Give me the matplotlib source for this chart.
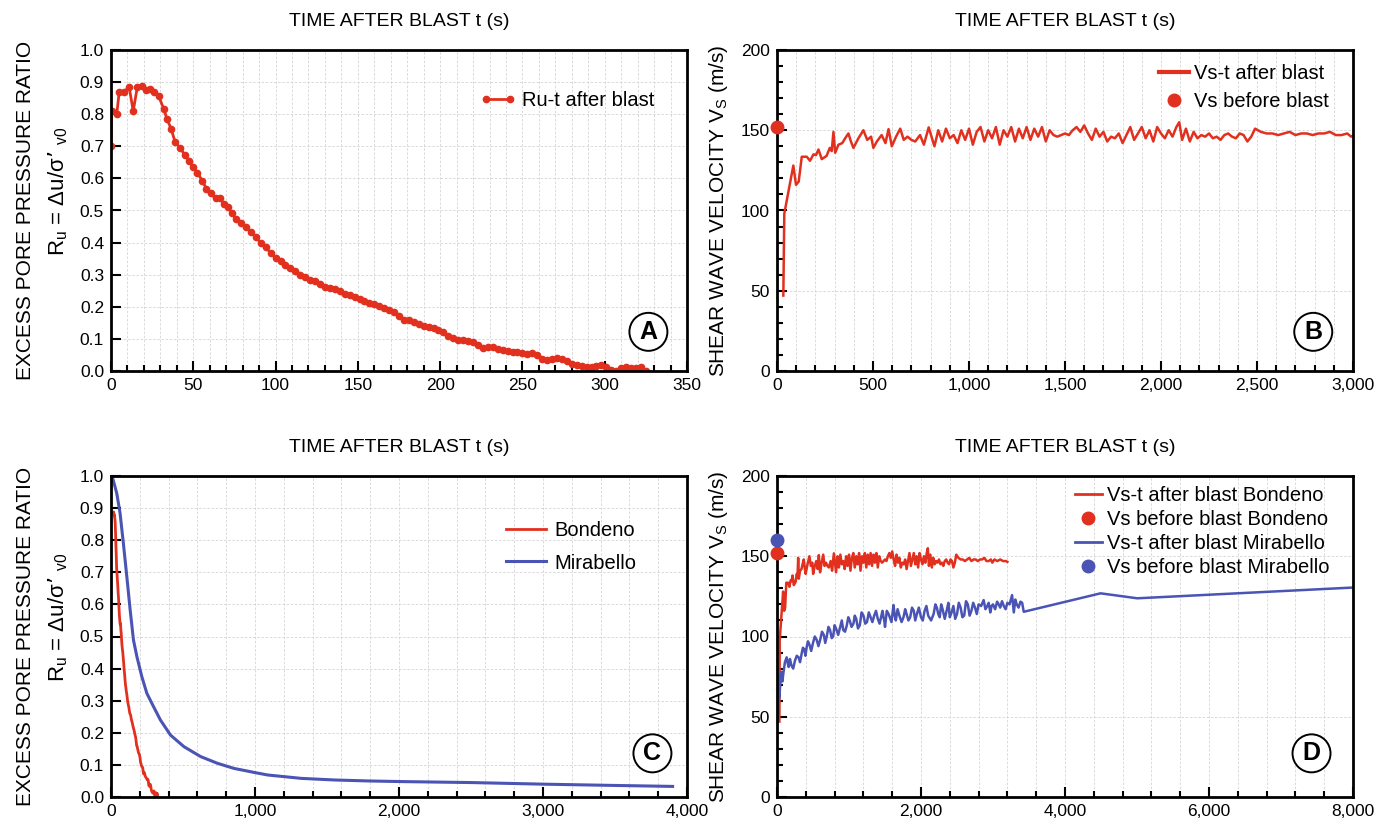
import numpy as np
import matplotlib
matplotlib.use("Agg")
import matplotlib.pyplot as plt
from matplotlib.ticker import MultipleLocator, FuncFormatter
from matplotlib.lines import Line2D

plt.rcParams['font.family'] = ['Liberation Sans', 'DejaVu Sans']
plt.rcParams['mathtext.default'] = 'regular'

RED = '#e2301f'
BLUE = '#4a54b4'

# --- panel A / C (Bondeno): excess pore pressure ratio vs time
t_ru = [0, 0.5, 3.5, 5, 8, 11, 13.5, 16, 18.7, 21.4,
        24, 26, 29, 32, 34, 36.5, 39, 42, 45, 47.5,
        50, 52.5, 55.5, 58, 60.5, 63.5, 66, 68.5, 71, 73.5,
        76, 79, 82, 85, 88, 91, 94, 97, 100, 103,
        106, 109, 112, 115, 118, 121, 124, 127, 130, 133,
        136, 139, 142, 145, 148, 151, 154, 157, 160, 163,
        166, 169, 172, 175, 178, 181, 184, 187, 190, 193,
        196, 199, 202, 205, 208, 211, 214, 217, 220, 223,
        226, 229, 232, 235, 238, 241, 244, 247, 250, 253,
        256, 259, 262, 265, 268, 271, 274, 277, 280, 283,
        286, 289, 292, 295, 298, 301, 304, 307, 310, 313,
        316, 319, 322, 325]
ru = [0.70, 0.81, 0.80, 0.87, 0.87, 0.885, 0.81, 0.885, 0.888, 0.876,
      0.878, 0.87, 0.856, 0.817, 0.785, 0.755, 0.713, 0.695, 0.672, 0.655,
      0.634, 0.618, 0.592, 0.568, 0.553, 0.538, 0.540, 0.520, 0.510, 0.491,
      0.474, 0.461, 0.450, 0.433, 0.418, 0.398, 0.385, 0.368, 0.352, 0.342,
      0.330, 0.322, 0.312, 0.300, 0.292, 0.285, 0.280, 0.270, 0.262, 0.258,
      0.256, 0.248, 0.240, 0.236, 0.230, 0.224, 0.218, 0.213, 0.208, 0.202,
      0.195, 0.190, 0.184, 0.172, 0.160, 0.158, 0.152, 0.146, 0.140, 0.136,
      0.134, 0.128, 0.122, 0.108, 0.104, 0.098, 0.096, 0.094, 0.091, 0.082,
      0.072, 0.074, 0.076, 0.070, 0.065, 0.062, 0.060, 0.058, 0.055, 0.054,
      0.055, 0.050, 0.038, 0.034, 0.038, 0.040, 0.038, 0.030, 0.022, 0.018,
      0.015, 0.013, 0.012, 0.015, 0.019, 0.012, 0.004, 0.000, 0.010, 0.013,
      0.008, 0.010, 0.011, 0.000]

# --- panel C (Mirabello)
t_ru_mir = [0, 12, 40, 63, 86, 110, 133, 156, 180, 214,
            249, 296, 343, 413, 506, 622, 739, 855, 1000, 1089,
            1322, 1554, 1788, 2021, 2500, 3000, 3500, 3900]
ru_mir = [1.0, 0.993, 0.946, 0.884, 0.79, 0.686, 0.583, 0.489, 0.437, 0.375,
          0.323, 0.281, 0.24, 0.193, 0.157, 0.126, 0.105, 0.089, 0.076, 0.0685,
          0.058, 0.053, 0.05, 0.048, 0.045, 0.04, 0.036, 0.033]

# --- panel B / D (Bondeno): shear wave velocity vs time
t_vs = [33, 38, 60, 85, 99, 113, 129, 155, 172, 190,
        203, 216, 233, 258, 275, 285, 294, 303, 320, 340,
        355, 372, 385, 398, 424, 450, 470, 490, 502, 520,
        545, 565, 581, 598, 620, 642, 660, 680, 700, 720,
        745, 765, 790, 805, 820, 840, 860, 880, 900, 920,
        940, 960, 980, 1000, 1020, 1040, 1060, 1080, 1100, 1120,
        1140, 1160, 1180, 1200, 1220, 1240, 1260, 1280, 1300, 1320,
        1340, 1360, 1380, 1400, 1420, 1440, 1460, 1480, 1500, 1520,
        1540, 1560, 1580, 1600, 1620, 1640, 1660, 1680, 1700, 1720,
        1740, 1760, 1780, 1800, 1820, 1840, 1860, 1880, 1900, 1920,
        1940, 1960, 1980, 2000, 2020, 2040, 2060, 2080, 2095, 2110,
        2130, 2150, 2170, 2190, 2210, 2230, 2250, 2270, 2290, 2310,
        2330, 2350, 2370, 2390, 2410, 2430, 2450, 2470, 2490, 2520,
        2550, 2580, 2610, 2640, 2670, 2700, 2730, 2760, 2790, 2820,
        2850, 2880, 2910, 2940, 2970, 2990, 3020, 3060, 3100, 3140,
        3180, 3200]
vs = [47, 98, 112, 128, 116, 118, 133.5, 133.5, 131, 135,
      134.5, 138, 132, 134, 139, 137, 149, 136, 141, 142,
      145, 148, 143, 139, 145, 150, 144, 146, 139, 143,
      147, 142, 150.7, 140, 146, 151, 144, 146, 144, 143,
      147, 141, 151.8, 146, 140, 150, 143, 151, 145, 147,
      142, 150, 144, 151, 141, 149, 152, 143, 150, 145,
      152, 141, 150, 146, 152, 143, 151, 145, 152, 144,
      151, 146, 152, 143, 150, 147, 146, 147, 148, 147,
      150, 152, 149, 153, 148, 144, 151, 146, 149, 143,
      146, 145, 148, 142, 147, 152, 144, 148, 152, 145,
      150, 143, 152, 148, 145, 150, 146, 152, 155, 144,
      151, 143, 149, 145, 147, 146, 148, 145, 146, 144,
      147, 148, 146, 145, 148, 147, 143, 146, 151, 149,
      148, 148, 147, 148, 149, 147, 148, 148, 147, 148,
      148, 149, 147, 147, 148, 146, 148, 147, 148, 147,
      147, 146.5]
vs_before = 152

# --- panel D (Mirabello)
t_vs_mir = [18, 25, 32, 45, 60, 75, 88, 110, 134, 150,
            162, 180, 200, 225, 250, 275, 300, 320, 343, 360,
            380, 395, 413, 430, 450, 475, 500, 525, 552, 575,
            600, 625, 650, 670, 691, 715, 737, 760, 780, 800,
            820, 850, 877, 900, 920, 945, 970, 990, 1010, 1035,
            1062, 1080, 1100, 1125, 1150, 1175, 1201, 1225, 1250, 1275,
            1300, 1325, 1350, 1375, 1400, 1425, 1450, 1465, 1479, 1490,
            1500, 1525, 1550, 1590, 1618, 1635, 1650, 1675, 1700, 1730,
            1757, 1780, 1800, 1825, 1850, 1875, 1900, 1920, 1943, 1970,
            2000, 2025, 2050, 2075, 2100, 2140, 2175, 2200, 2220, 2240,
            2260, 2280, 2300, 2330, 2361, 2380, 2400, 2425, 2450, 2475,
            2500, 2525, 2550, 2575, 2600, 2625, 2650, 2675, 2700, 2725,
            2750, 2775, 2800, 2835, 2870, 2895, 2920, 2940, 2963, 2980,
            3000, 3030, 3057, 3080, 3100, 3125, 3150, 3175, 3200, 3230,
            3265, 3278, 3289, 3310, 3330, 3355, 3381, 3405, 3427,
            4494, 5004, 8000]
vs_mir = [52, 76, 62, 70, 78, 72, 77, 84, 87, 83,
          81, 86, 82, 80, 85, 88, 87, 84, 89.5, 93,
          92, 88, 93.6, 97, 95, 91, 96, 100, 97.8, 94,
          98, 103, 101, 96, 100, 106, 104, 99, 100, 107,
          105, 101, 106, 110, 104, 103, 107, 112, 110, 106,
          108, 113, 111, 105, 107, 115, 113, 108, 109, 115,
          112, 109, 113, 116, 111, 108, 113, 116, 112, 110,
          106, 116, 114, 109, 119.6, 113, 110, 117, 113, 109,
          112, 117, 114, 110, 112, 118, 116, 110, 114, 118,
          112, 110, 116, 119, 113, 110, 114, 120, 118, 114,
          112, 120, 117, 111, 117, 121, 112, 115, 119, 111,
          114, 121, 118, 112, 113, 122, 120, 113, 116, 121,
          118, 114, 120, 119, 122.7, 117, 119, 121, 115, 119,
          120, 117, 121.7, 120, 118, 122, 119, 117, 121, 120,
          125.8, 120, 115, 123, 120, 118, 121.7, 121, 115.4,
          126.9, 123.8, 130.5]
vs_before_mir = 160

W, H = 1389, 830
fig = plt.figure(figsize=(W / 100, H / 100), dpi=100)


def add_ax(left, top, right, bottom):
    return fig.add_axes([left / W, (H - bottom) / H, (right - left) / W, (bottom - top) / H])


axA = add_ax(111, 50, 687, 371)
axB = add_ax(777, 50, 1353, 371)
axC = add_ax(111, 476, 687, 797)
axD = add_ax(777, 476, 1353, 797)

comma = FuncFormatter(lambda v, p: f"{v:,.0f}")
plain = FuncFormatter(lambda v, p: f"{v:.0f}")
onedec = FuncFormatter(lambda v, p: f"{v:.1f}")


def style(ax, xmax, xmaj, xmin, ymax, ymaj, ymin, xfmt, yfmt):
    ax.set_xlim(0, xmax)
    ax.set_ylim(0, ymax)
    ax.xaxis.set_major_locator(MultipleLocator(xmaj))
    ax.xaxis.set_minor_locator(MultipleLocator(xmin))
    ax.yaxis.set_major_locator(MultipleLocator(ymaj))
    if ymin:
        ax.yaxis.set_minor_locator(MultipleLocator(ymin))
    ax.xaxis.set_major_formatter(xfmt)
    ax.yaxis.set_major_formatter(yfmt)
    ax.tick_params(which='both', direction='in', width=1.5, labelsize=12.5, pad=5)
    ax.tick_params(which='major', length=7)
    ax.tick_params(which='minor', length=4)
    for s in ax.spines.values():
        s.set_linewidth(2)
    ax.grid(which='both', axis='x', color='#d4d4d4', ls=(0, (3, 2)), lw=0.6)
    ax.grid(which='major', axis='y', color='#d4d4d4', ls=(0, (3, 2)), lw=0.6)
    ax.set_axisbelow(True)
    ax.text(0.5, 1.088, 'TIME AFTER BLAST t (s)', transform=ax.transAxes,
            ha='center', va='center', fontsize=14)


def ru_label(ax):
    ax.text(-0.149, 0.5, 'EXCESS PORE PRESSURE RATIO', transform=ax.transAxes,
            rotation=90, ha='center', va='center', fontsize=15)
    ax.text(-0.092, 0.56, "R$_u$ = Δu/σ’ $_{v0}$", transform=ax.transAxes,
            rotation=90, ha='center', va='center', fontsize=16)


def vs_label(ax):
    ax.text(-0.102, 0.5, 'SHEAR WAVE VELOCITY V$_S$ (m/s)', transform=ax.transAxes,
            rotation=90, ha='center', va='center', fontsize=15)


def badge(ax, x, y, letter):
    ax.text(x, y, letter, transform=ax.transAxes, ha='center', va='center',
            fontsize=18, fontweight='bold', zorder=6,
            bbox=dict(boxstyle='circle,pad=0.28', fc='white', ec='black', lw=1.4))


# A
style(axA, 350, 50, 10, 1.0, 0.1, None, plain, onedec)
ru_label(axA)
axA.plot(t_ru, ru, color=RED, lw=2, marker='o', ms=4.5, label='Ru-t after blast')
axA.legend(loc='upper right', bbox_to_anchor=(0.975, 0.93), frameon=False,
           fontsize=14.5, numpoints=2, handlelength=1.8, handletextpad=0.3)
badge(axA, 0.933, 0.122, 'A')

# B
style(axB, 3000, 500, 100, 200, 50, 10, comma, plain)
vs_label(axB)
axB.plot(t_vs, vs, color=RED, lw=1.8)
axB.plot([0], [vs_before], 'o', color=RED, ms=9, clip_on=False, zorder=5)
hB = [Line2D([], [], color=RED, lw=3),
      Line2D([], [], color=RED, marker='o', ls='none', ms=9)]
axB.legend(hB, ['Vs-t after blast', 'Vs before blast'], loc='upper right',
           bbox_to_anchor=(0.99, 1.013), frameon=False, fontsize=14.5,
           handlelength=1.5, handletextpad=0.25, labelspacing=0.45)
badge(axB, 0.931, 0.122, 'B')

# C
style(axC, 4000, 1000, 200, 1.0, 0.1, None, comma, onedec)
ru_label(axC)
axC.plot(t_ru[7:], ru[7:], color=RED, lw=2, label='Bondeno')
axC.plot(t_ru_mir, ru_mir, color=BLUE, lw=2.2, label='Mirabello')
axC.legend(loc='upper right', bbox_to_anchor=(0.943, 0.915), frameon=False,
           fontsize=14.5, handlelength=2.0, handletextpad=0.4, labelspacing=0.65)
badge(axC, 0.94, 0.136, 'C')

# D
style(axD, 8000, 2000, 400, 200, 50, 10, comma, plain)
vs_label(axD)
axD.plot(t_vs, vs, color=RED, lw=1.8)
axD.plot(t_vs_mir, vs_mir, color=BLUE, lw=1.8)
axD.plot([0], [vs_before], 'o', color=RED, ms=9, clip_on=False, zorder=5)
axD.plot([0], [vs_before_mir], 'o', color=BLUE, ms=9, clip_on=False, zorder=5)
hD = [Line2D([], [], color=RED, lw=2),
      Line2D([], [], color=RED, marker='o', ls='none', ms=9),
      Line2D([], [], color=BLUE, lw=2),
      Line2D([], [], color=BLUE, marker='o', ls='none', ms=9)]
axD.legend(hD, ['Vs-t after blast Bondeno', 'Vs before blast Bondeno',
                'Vs-t after blast Mirabello', 'Vs before blast Mirabello'],
           loc='upper right', bbox_to_anchor=(0.99, 1.025), frameon=False,
           fontsize=14.5, handlelength=1.3, handletextpad=0.25, labelspacing=0.25)
badge(axD, 0.928, 0.136, 'D')

fig.savefig('out.png', dpi=100)
